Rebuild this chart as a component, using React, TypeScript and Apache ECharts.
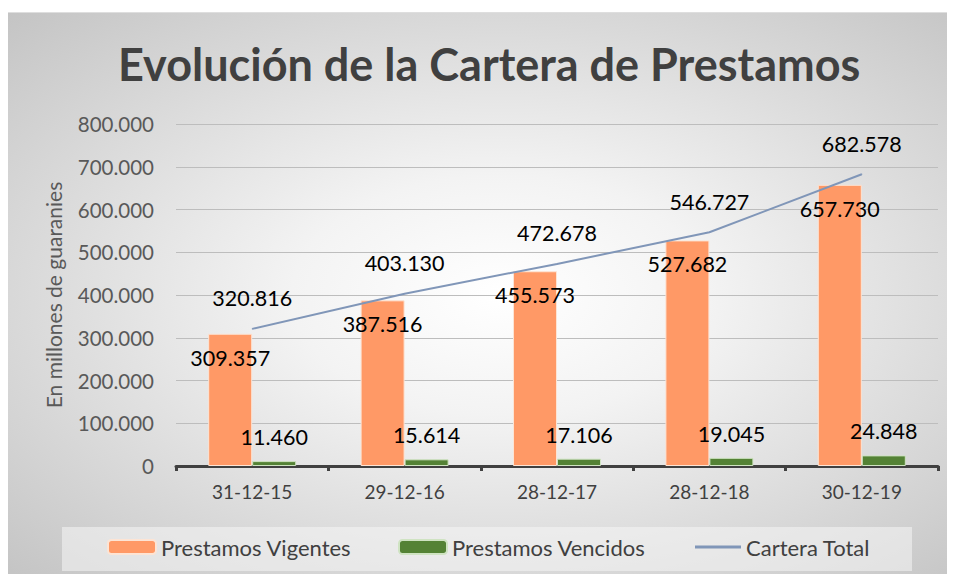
import React, { useEffect, useRef } from "react";
import * as echarts from "echarts";

const categories = ["31-12-15", "29-12-16", "28-12-17", "28-12-18", "30-12-19"];
const vigentes = [309357, 387516, 455573, 527682, 657730];
const vencidos = [11460, 15614, 17106, 19045, 24848];
const carteraTotal = [320816, 403130, 472678, 546727, 682578];
const yTicks = [0, 100000, 200000, 300000, 400000, 500000, 600000, 700000, 800000];

const fmt = (v: number) =>
  v === 0 ? "0" : Math.round(v).toString().replace(/\B(?=(\d{3})+(?!\d))/g, ".");

const FONT = "Lato, 'Open Sans', sans-serif";

export default function App() {
  const ref = useRef<HTMLDivElement>(null);
  useEffect(() => {
    if (!ref.current) return;
    const chart = echarts.init(ref.current, null, { renderer: "svg" });
    const legendText = { fontSize: 22, color: "#404040", fontFamily: FONT };
    chart.setOption({
      animation: false,
      textStyle: { fontFamily: FONT },
      title: {
        text: "Evolución de la Cartera de Prestamos",
        left: 110,
        top: 28,
        padding: 0,
        textStyle: { fontSize: 45, fontWeight: "bold", color: "#404040", fontFamily: FONT },
      },
      graphic: [
        {
          type: "rect",
          shape: { x: 54, y: 514, width: 850, height: 44 },
          style: { fill: "rgba(245,245,245,0.55)" },
          z: -1,
        },
      ],
      legend: [
        {
          data: ["Prestamos Vigentes"],
          left: 94,
          top: 518,
          itemWidth: 48,
          itemHeight: 14,
          textStyle: legendText,
        },
        {
          data: ["Prestamos Vencidos"],
          left: 385,
          top: 518,
          itemWidth: 48,
          itemHeight: 14,
          textStyle: legendText,
        },
        {
          data: [{ name: "Cartera Total", icon: "rect" }],
          left: 682,
          top: 518,
          itemWidth: 46,
          itemHeight: 3,
          textStyle: legendText,
        },
      ],
      grid: { left: 168, right: 17, top: 111, bottom: 112, containLabel: false },
      xAxis: {
        type: "category",
        data: categories,
        axisLine: { lineStyle: { color: "#404040", width: 3 } },
        axisTick: { show: true, length: 5, lineStyle: { color: "#404040", width: 3 } },
        axisLabel: { fontSize: 19, color: "#404040", margin: 16, fontFamily: FONT },
      },
      yAxis: {
        type: "value",
        min: yTicks[0],
        max: yTicks[yTicks.length - 1],
        interval: yTicks[1] - yTicks[0],
        name: "En millones de guaranies",
        nameLocation: "middle",
        nameRotate: 90,
        nameGap: 112,
        nameTextStyle: { fontSize: 21, color: "#595959", fontFamily: FONT },
        axisLine: { show: false },
        axisTick: { show: false },
        axisLabel: { fontSize: 20.5, color: "#595959", margin: 22, formatter: fmt, fontFamily: FONT },
        splitLine: { lineStyle: { color: "#bdbdbd", width: 1 } },
      },
      series: [
        {
          name: "Prestamos Vigentes",
          type: "bar",
          data: vigentes,
          barWidth: 44,
          barGap: "0%",
          itemStyle: { color: "#FF9966", borderColor: "#fde4d4", borderWidth: 1 },
          label: {
            show: true,
            position: "insideTop",
            distance: 13,
            fontSize: 21.5,
            color: "#000",
            fontFamily: FONT,
            formatter: (p: any) => fmt(p.value),
          },
        },
        {
          name: "Prestamos Vencidos",
          type: "bar",
          data: vencidos,
          barWidth: 44,
          barGap: "0%",
          itemStyle: { color: "#548235", borderColor: "#cfe3c2", borderWidth: 1 },
          label: {
            show: true,
            position: "top",
            distance: 13,
            fontSize: 21.5,
            color: "#000",
            fontFamily: FONT,
            formatter: (p: any) => fmt(p.value),
          },
        },
        {
          name: "Cartera Total",
          type: "line",
          data: carteraTotal,
          symbol: "circle",
          symbolSize: 1,
          showSymbol: true,
          itemStyle: { color: "#8096b8" },
          lineStyle: { color: "#8096b8", width: 2 },
          label: {
            show: true,
            position: "top",
            distance: 19,
            fontSize: 21.5,
            color: "#000",
            fontFamily: FONT,
            formatter: (p: any) => fmt(p.value),
          },
          z: 5,
        },
      ],
    });
    return () => chart.dispose();
  }, []);
  return (
    <div
      ref={ref}
      style={{
        position: "relative",
        top: 4,
        width: 947,
        height: 566,
        background:
          "radial-gradient(ellipse at 52% 50%, #ffffff 0%, #f3f3f3 30%, #c4c4c4 100%)",
        borderTop: "1px solid #dedede",
        boxSizing: "border-box",
      }}
    />
  );
}
